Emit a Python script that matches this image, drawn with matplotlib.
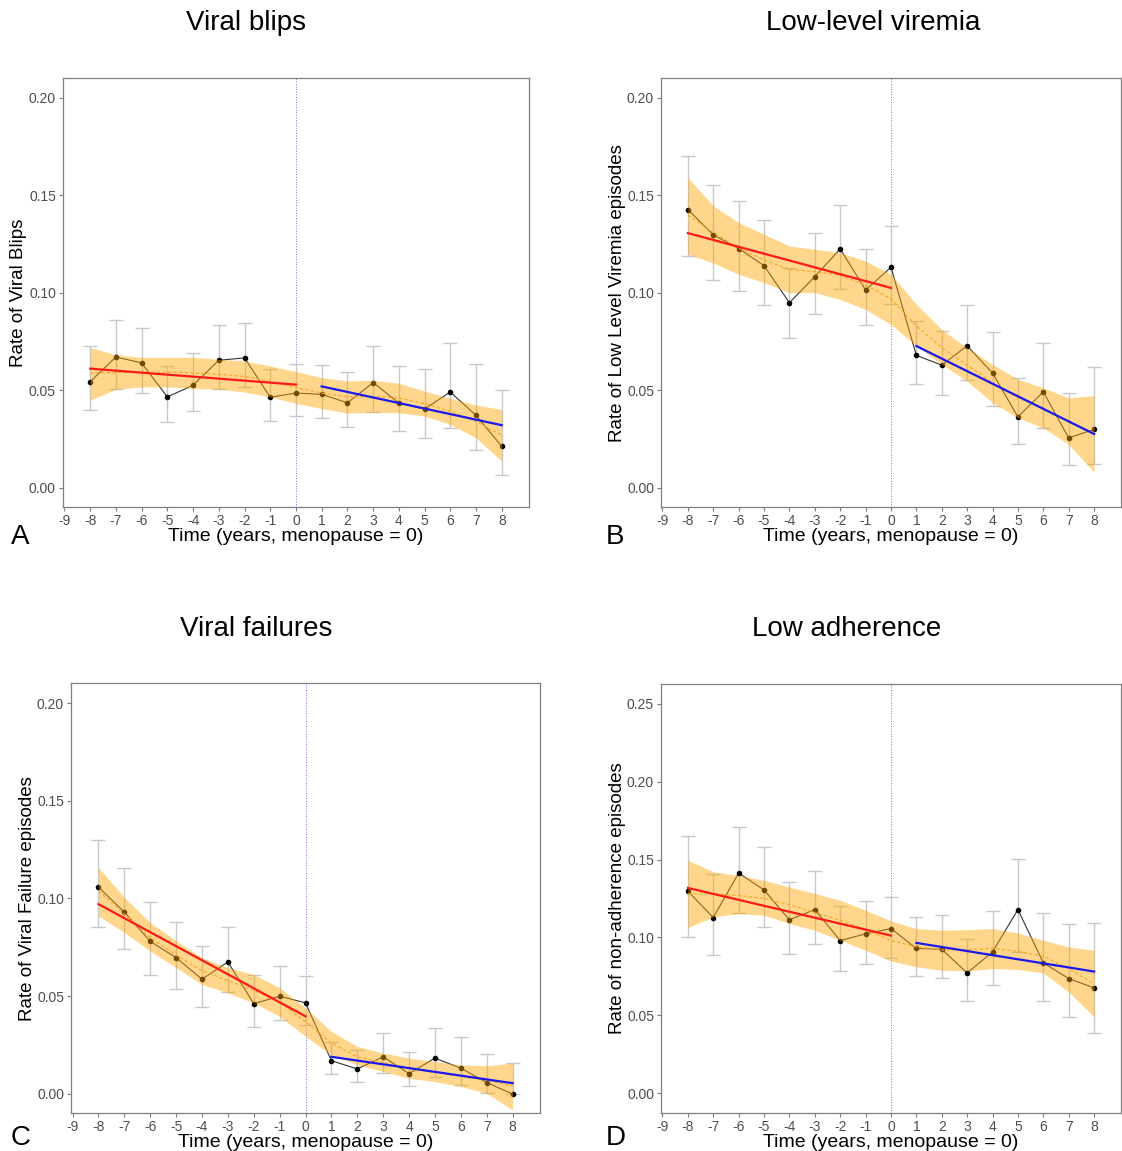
#Four-panel chart of episode rates around menopause
# Each panel: yearly rates with error bars, a loess band (orange) and
# two linear fits, one before (red) and one after (blue) menopause

import matplotlib
matplotlib.use('Agg')
import matplotlib.pyplot as plt
import numpy as np

plt.rcParams['font.family'] = ['Liberation Sans', 'DejaVu Sans']
plt.rcParams['axes.unicode_minus'] = False

###Data
# Years relative to menopause
years = [-8, -7, -6, -5, -4, -3, -2, -1, 0, 1, 2, 3, 4, 5, 6, 7, 8]
# Fit segments: start/end years
pre_years = [-8, 0]
post_years = [1, 8]

#Panel A - viral blips
blips_rate = [0.0545, 0.0672, 0.0641, 0.0467, 0.0527, 0.0655, 0.0667, 0.0465, 0.0487,
              0.0480, 0.0437, 0.0540, 0.0436, 0.0405, 0.0492, 0.0372, 0.0214]
blips_hi = [0.0726, 0.0864, 0.0823, 0.0623, 0.0693, 0.0835, 0.0844, 0.0609, 0.0635,
            0.0633, 0.0593, 0.0729, 0.0626, 0.0609, 0.0743, 0.0638, 0.0500]
blips_lo = [0.0400, 0.0509, 0.0487, 0.0340, 0.0393, 0.0508, 0.0520, 0.0346, 0.0369,
            0.0360, 0.0312, 0.0389, 0.0292, 0.0254, 0.0309, 0.0197, 0.0069]
blips_band_hi = [0.0720, 0.0683, 0.0670, 0.0670, 0.0670, 0.0660, 0.0652, 0.0626, 0.0597,
                 0.0566, 0.0549, 0.0552, 0.0537, 0.0497, 0.0460, 0.0425, 0.0403]
blips_band_lo = [0.0451, 0.0506, 0.0518, 0.0518, 0.0511, 0.0506, 0.0492, 0.0467, 0.0434,
                 0.0407, 0.0384, 0.0388, 0.0386, 0.0369, 0.0326, 0.0257, 0.0137]
blips_band_mid = [0.0590, 0.0592, 0.0594, 0.0594, 0.0590, 0.0583, 0.0572, 0.0547, 0.0515,
                  0.0487, 0.0467, 0.0470, 0.0461, 0.0433, 0.0393, 0.0341, 0.0270]
blips_pre = [0.0612, 0.0530]
blips_post = [0.0521, 0.0322]

#Panel B - low-level viremia
llv_rate = [0.1428, 0.1298, 0.1228, 0.1140, 0.0950, 0.1084, 0.1226, 0.1015, 0.1132,
            0.0680, 0.0630, 0.0729, 0.0589, 0.0365, 0.0493, 0.0257, 0.0300]
llv_hi = [0.1704, 0.1555, 0.1471, 0.1373, 0.1130, 0.1307, 0.1452, 0.1224, 0.1341,
          0.0854, 0.0807, 0.0940, 0.0801, 0.0565, 0.0741, 0.0485, 0.0618]
llv_lo = [0.1188, 0.1068, 0.1012, 0.0938, 0.0767, 0.0894, 0.1022, 0.0836, 0.0945,
          0.0531, 0.0478, 0.0553, 0.0418, 0.0223, 0.0310, 0.0120, 0.0123]
llv_band_hi = [0.1592, 0.1447, 0.1361, 0.1301, 0.1241, 0.1224, 0.1207, 0.1164, 0.1096,
               0.0942, 0.0813, 0.0719, 0.0634, 0.0557, 0.0514, 0.0462, 0.0474]
llv_band_lo = [0.1199, 0.1154, 0.1096, 0.1053, 0.1002, 0.1002, 0.0967, 0.0916, 0.0839,
               0.0728, 0.0634, 0.0548, 0.0437, 0.0360, 0.0308, 0.0223, 0.0082]
llv_band_mid = [0.1400, 0.1310, 0.1230, 0.1170, 0.1120, 0.1110, 0.1090, 0.1040, 0.0970,
                0.0830, 0.0720, 0.0630, 0.0540, 0.0460, 0.0410, 0.0340, 0.0280]
llv_pre = [0.1307, 0.1026]
llv_post = [0.0728, 0.0277]

#Panel C - viral failures
vf_rate = [0.1058, 0.0930, 0.0781, 0.0697, 0.0587, 0.0675, 0.0462, 0.0500, 0.0466,
           0.0170, 0.0128, 0.0190, 0.0104, 0.0183, 0.0132, 0.0058, 0.0000]
vf_hi = [0.1300, 0.1154, 0.0981, 0.0882, 0.0759, 0.0854, 0.0610, 0.0652, 0.0604,
         0.0267, 0.0224, 0.0313, 0.0217, 0.0337, 0.0291, 0.0205, 0.0159]
vf_lo = [0.0853, 0.0740, 0.0611, 0.0539, 0.0447, 0.0522, 0.0342, 0.0377, 0.0351,
         0.0101, 0.0063, 0.0106, 0.0041, 0.0087, 0.0045, 0.0007, 0.0000]
vf_band_hi = [0.1159, 0.1005, 0.0877, 0.0783, 0.0697, 0.0646, 0.0611, 0.0543, 0.0440,
              0.0320, 0.0243, 0.0209, 0.0183, 0.0166, 0.0149, 0.0144, 0.0158]
vf_band_lo = [0.0911, 0.0826, 0.0731, 0.0646, 0.0560, 0.0517, 0.0466, 0.0397, 0.0295,
              0.0200, 0.0149, 0.0115, 0.0080, 0.0063, 0.0038, 0.0003, -0.0082]
vf_band_mid = [0.1040, 0.0920, 0.0800, 0.0710, 0.0630, 0.0580, 0.0530, 0.0470, 0.0370,
               0.0260, 0.0190, 0.0160, 0.0130, 0.0110, 0.0090, 0.0070, 0.0040]
vf_pre = [0.0971, 0.0397]
vf_post = [0.0190, 0.0055]

#Panel D - low adherence
adh_rate = [0.1297, 0.1128, 0.1414, 0.1305, 0.1113, 0.1179, 0.0980, 0.1023, 0.1057,
            0.0929, 0.0924, 0.0772, 0.0907, 0.1179, 0.0837, 0.0736, 0.0676]
adh_hi = [0.1654, 0.1406, 0.1712, 0.1579, 0.1356, 0.1427, 0.1202, 0.1237, 0.1260,
          0.1132, 0.1142, 0.0993, 0.1168, 0.1506, 0.1155, 0.1085, 0.1095]
adh_lo = [0.1006, 0.0890, 0.1160, 0.1065, 0.0894, 0.0961, 0.0787, 0.0832, 0.0871,
          0.0755, 0.0738, 0.0590, 0.0697, 0.0907, 0.0590, 0.0486, 0.0387]
adh_band_hi = [0.1496, 0.1421, 0.1399, 0.1367, 0.1324, 0.1282, 0.1239, 0.1175, 0.1106,
               0.1057, 0.1046, 0.1050, 0.1057, 0.1029, 0.0982, 0.0939, 0.0918]
adh_band_lo = [0.1063, 0.1132, 0.1153, 0.1142, 0.1089, 0.1046, 0.0982, 0.0918, 0.0849,
               0.0811, 0.0789, 0.0785, 0.0800, 0.0794, 0.0772, 0.0650, 0.0490]
adh_band_mid = [0.1280, 0.1280, 0.1270, 0.1250, 0.1210, 0.1160, 0.1110, 0.1050, 0.0980,
                0.0940, 0.0920, 0.0920, 0.0930, 0.0910, 0.0880, 0.0800, 0.0700]
adh_pre = [0.1318, 0.1012]
adh_post = [0.0965, 0.0781]

#Titles and axis labels
titles = ['Viral blips', 'Low-level viremia', 'Viral failures', 'Low adherence']
ylabels = ['Rate of Viral Blips', 'Rate of Low Level Viremia episodes',
           'Rate of Viral Failure episodes', 'Rate of non-adherence episodes']
letters = ['A', 'B', 'C', 'D']
xlabel = 'Time (years, menopause = 0)'
yticks_small = [0.00, 0.05, 0.10, 0.15, 0.20]
yticks_large = [0.00, 0.05, 0.10, 0.15, 0.20, 0.25]
xticks = list(range(-9, 9))


###Plotting function for one panel
def draw_panel(ax, rate, lo, hi, band_lo, band_hi, band_mid, pre, post, yticks, ylabel):
    # Vertical marker at menopause
    ax.axvline(0, color='#5050ff', lw=0.7, ls=':', alpha=0.8, zorder=1)
    # Error bars
    ax.errorbar(years, rate, yerr=[np.subtract(rate, lo), np.subtract(hi, rate)],
                fmt='none', ecolor='#c8c8c8', elinewidth=1.0, capsize=5,
                capthick=1.0, zorder=2)
    # Observed rates
    ax.plot(years, rate, color='#333333', lw=0.8, zorder=3)
    ax.scatter(years, rate, s=9, color='black', zorder=4)
    # Loess band with dashed centre line
    ax.fill_between(years, band_lo, band_hi, color='#ffa500', alpha=0.45,
                    lw=0, zorder=5)
    ax.plot(years, band_mid, color='#f5a623', lw=0.8, ls=(0, (3, 2)), zorder=6)
    # Linear fits
    ax.plot(pre_years, pre, color='#ff1a1a', lw=1.6, zorder=7)
    ax.plot(post_years, post, color='#1a1aee', lw=1.6, zorder=7)

    ymax = yticks[-1]
    pad = ymax * 0.05
    ax.set_ylim(-pad, ymax + pad)
    ax.set_xlim(-9.06, 9.06)
    ax.set_xticks(xticks)
    ax.set_yticks(yticks)
    ax.set_yticklabels(['%.2f' % v for v in yticks])
    ax.tick_params(colors='#7f7f7f', labelcolor='#4d4d4d', labelsize=10,
                   length=3, width=0.8, pad=2)
    for s in ax.spines.values():
        s.set_color('#7f7f7f')
        s.set_linewidth(0.9)
    ax.set_xlabel(xlabel, fontsize=14, labelpad=0)
    ax.set_ylabel(ylabel, fontsize=13.5, labelpad=1)


fig = plt.figure(figsize=(11.22, 11.51), dpi=100)

#Axes positions: [left, bottom, width, height] in figure fractions
axA = fig.add_axes([0.0561, 0.5591, 0.4154, 0.3727])
axB = fig.add_axes([0.5891, 0.5591, 0.4100, 0.3727])
axC = fig.add_axes([0.0633, 0.0326, 0.4180, 0.3736])
axD = fig.add_axes([0.5891, 0.0334, 0.4100, 0.3719])

draw_panel(axA, blips_rate, blips_lo, blips_hi, blips_band_lo, blips_band_hi,
           blips_band_mid, blips_pre, blips_post, yticks_small, ylabels[0])
draw_panel(axB, llv_rate, llv_lo, llv_hi, llv_band_lo, llv_band_hi,
           llv_band_mid, llv_pre, llv_post, yticks_small, ylabels[1])
draw_panel(axC, vf_rate, vf_lo, vf_hi, vf_band_lo, vf_band_hi,
           vf_band_mid, vf_pre, vf_post, yticks_small, ylabels[2])
draw_panel(axD, adh_rate, adh_lo, adh_hi, adh_band_lo, adh_band_hi,
           adh_band_mid, adh_pre, adh_post, yticks_large, ylabels[3])

#Panel titles (pixel positions converted to figure fractions)
W, H = 1122.0, 1151.0
title_pos = [(246, 30), (873, 30), (256, 636), (847, 636)]
for t, (px, py) in zip(titles, title_pos):
    fig.text(px / W, 1 - py / H, t, fontsize=20, ha='center', va='baseline')

#Panel letters
letter_pos = [(11, 544), (606, 544), (11, 1145), (606, 1145)]
for l, (px, py) in zip(letters, letter_pos):
    fig.text(px / W, 1 - py / H, l, fontsize=20, ha='left', va='baseline')

fig.savefig('out.png', dpi=100)
